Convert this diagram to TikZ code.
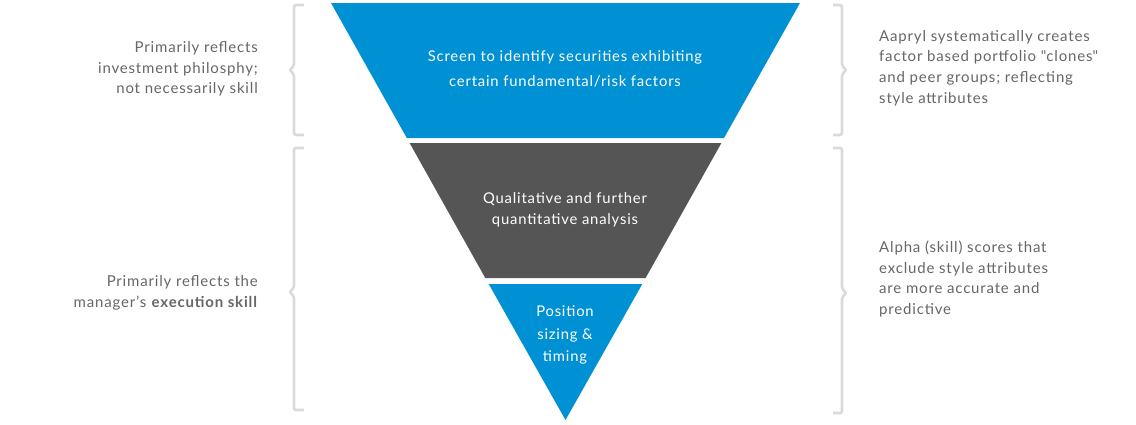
\documentclass[tikz,border=0pt]{standalone}
\usepackage{fontspec}
\setmainfont[LetterSpace=5.5]{Lato}
\definecolor{fblue}{HTML}{0091D5}
\definecolor{fgray}{HTML}{555555}
\definecolor{ftext}{HTML}{666666}
\definecolor{fbrace}{HTML}{DADADA}
\begin{document}
\begin{tikzpicture}[x=1pt,y=-1pt,
  brace/.style={draw=fbrace,line width=2.6pt,rounded corners=2pt},
  sidetext/.style={text=ftext,font=\fontsize{15}{20.7}\selectfont,inner sep=0pt},
  intext/.style={text=white,font=\fontsize{14.8}{25}\selectfont,inner sep=0pt,align=center}]
\useasboundingbox (0,0) rectangle (1136,424);
% funnel
\fill[fblue] (331,3) -- (800,3) -- (724,138) -- (406.8,138) -- cycle;
\fill[fgray] (409.6,143) -- (721.4,143) -- (645.6,278) -- (485.3,278) -- cycle;
\fill[fblue] (488.7,284) -- (642.3,284) -- (565.5,420) -- cycle;
% braces
\draw[brace] (304,5) -- (294,5) -- (294,66) -- (289.5,70) -- (294,74) -- (294,135) -- (304,135);
\draw[brace] (304,148) -- (294,148) -- (294,288) -- (289.5,292) -- (294,296) -- (294,410) -- (304,410);
\draw[brace] (833,5) -- (842,5) -- (842,66) -- (846.5,70) -- (842,74) -- (842,135) -- (833,135);
\draw[brace] (833,148) -- (842,148) -- (842,289) -- (846.5,293) -- (842,297) -- (842,413) -- (833,413);
% inner texts
\node[intext] (t1) at (565,69) {Screen to identify securities exhibiting\\certain fundamental/risk factors};
\node[intext,font=\fontsize{14.8}{21}\selectfont] (t2) at (565,210) {Qualitative and further\\quantitative analysis};
\node[intext,font=\fontsize{14.8}{22.5}\selectfont] (t3) at (565,335) {Position\\sizing \&\\timing};
% side texts
\node[sidetext,align=right,anchor=east] (l1) at (258,69) {Primarily reflects\\investment philosphy;\\not necessarily skill};
\node[sidetext,align=right,anchor=east] (l2) at (258,293) {Primarily reflects the\\manager's \textbf{execution skill}};
\node[sidetext,align=left,anchor=west] (r1) at (879,68) {Aapryl systematically creates\\factor based portfolio \textquotedbl clones\textquotedbl\\and peer groups; reflecting\\style attributes};
\node[sidetext,align=left,anchor=west] (r2) at (879,279) {Alpha (skill) scores that\\exclude style attributes\\are more accurate and\\predictive};
\end{tikzpicture}
\end{document}
